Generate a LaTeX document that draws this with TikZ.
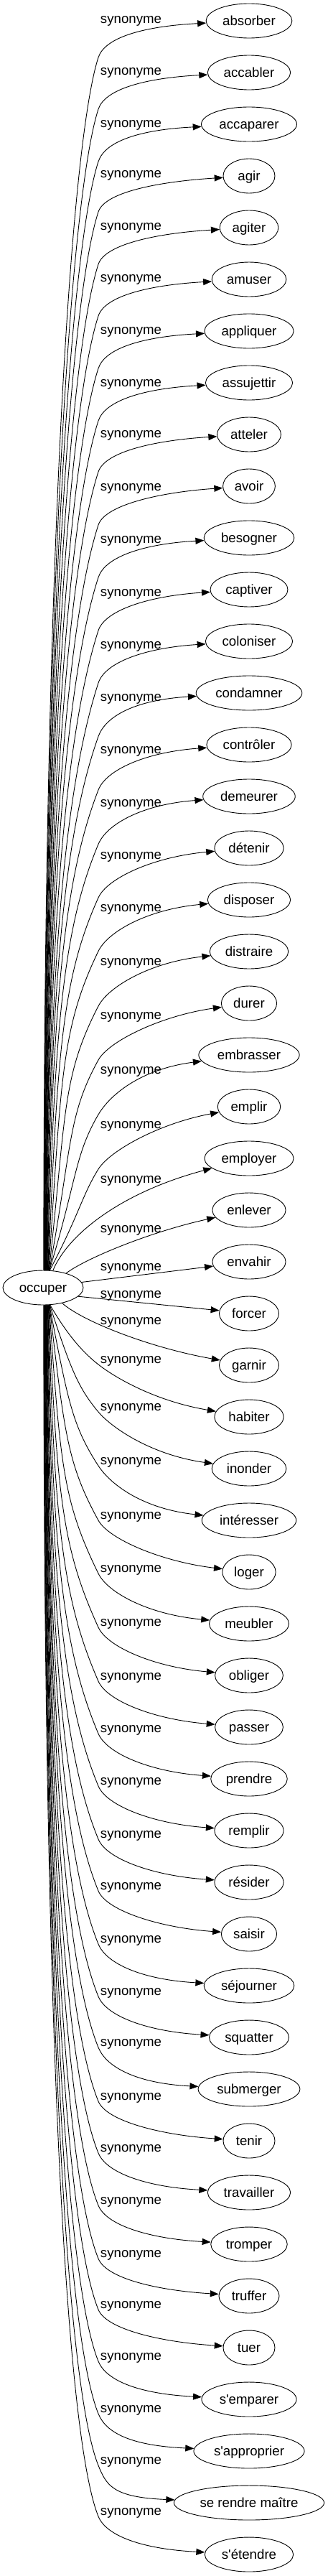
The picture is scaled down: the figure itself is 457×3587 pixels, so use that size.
\documentclass[tikz,border=0pt]{standalone}
\usepackage{fontspec}
\setmainfont{Liberation Sans}
\usetikzlibrary{shapes.geometric,arrows.meta,calc}
\begin{document}
\begin{tikzpicture}[x=1pt,y=-1pt,
  txt/.style={font=\fontsize{18.67pt}{22pt}\selectfont, text height=14pt, text depth=2pt},
  syn/.style={txt, ellipse, draw, line width=0.9pt, minimum width=72pt, minimum height=48pt, inner xsep=5.5pt, inner ysep=0pt},
  lab/.style={txt, inner sep=0pt},
  edge/.style={draw, line width=0.9pt, -{Triangle[length=12pt,width=9pt]}}]
\useasboundingbox (0,0) rectangle (457,3587);

% central node
\node[syn, minimum width=112pt] (occ) at (60,1793) {occuper};

% target nodes
\foreach \i/\w in {0/absorber,1/accabler,2/accaparer,3/agir,4/agiter,5/amuser,6/appliquer,7/assujettir,8/atteler,9/avoir,10/besogner,11/captiver,12/coloniser,13/condamner,14/contrôler,15/demeurer,16/détenir,17/disposer,18/distraire,19/durer,20/embrasser,21/emplir,22/employer,23/enlever,24/envahir,25/forcer,26/garnir,27/habiter,28/inonder,29/intéresser,30/loger,31/meubler,32/obliger,33/passer,34/prendre,35/remplir,36/résider,37/saisir,38/séjourner,39/squatter,40/submerger,41/tenir,42/travailler,43/tromper,44/truffer,45/tuer,46/s\textquotesingle emparer,47/s\textquotesingle approprier,48/se rendre maître,49/s\textquotesingle étendre}
  \node[syn] (t\i) at (347,{29+72*\i}) {\w};

% edge labels
\foreach \i/\ly in {0/26,1/98,2/171,3/241,4/314,5/386,6/459,7/532,8/603,9/677,10/750,11/824,12/897,13/970,14/1043,15/1117,16/1190,17/1263,18/1338,19/1413,20/1489,21/1565,22/1641,23/1710,24/1763,25/1801,26/1838,27/1892,28/1958,29/2033,30/2109,31/2183,32/2258,33/2333,34/2406,35/2479,36/2553,37/2625,38/2699,39/2772,40/2843,41/2918,42/2990,43/3063,44/3137,45/3208,46/3280,47/3353,48/3425,49/3496}
  \node[lab] (l\i) at (182.5,\ly) {synonyme};

% upper edges
\foreach \i/\ly in {0/26,1/98,2/171,3/241,4/314,5/386,6/459,7/532,8/603,9/677,10/750,11/824,12/897,13/970,14/1043,15/1117,16/1190,17/1263,18/1338,19/1413,20/1489,21/1565}{
  \pgfmathtruncatemacro\ang{88-0.9*\i}
  \pgfmathsetmacro\ky{\ly+min(63,54+max(0,\i-12)*1.5)}
  \pgfmathsetmacro\dd{1770-\ky}
  \pgfmathsetmacro\ps{90-28*exp(-(21-\i)/2)}
  \pgfmathsetmacro\ph{72-max(0,\i-12)*1.55}
  \pgfmathsetmacro\bb{5+11*exp(-(21-\i)/4)}
  \pgfmathsetmacro\ao{0.6*\dd}
  \pgfmathsetmacro\cc{min(0.3*\dd,120)}
  \coordinate (k\i) at (137,\ky);
  \draw[edge] (occ.\ang) .. controls ($(occ.\ang)+({\ao*cos(\ps)},{-\ao*sin(\ps)})$) and ({137-\cc*cos(\ph)},{\ky+\cc*sin(\ph)}) .. (k\i)
     .. controls ({137+30*cos(\ph)},{\ky-30*sin(\ph)}) and ($(t\i.west)+({-85*cos(\bb)},{85*sin(\bb)})$) .. (t\i);
}

% middle edges
\draw[edge] (occ.60) .. controls (95,1718) and (170,1660) .. (t22);
\draw[edge] (occ.32) .. controls (120,1752) and (210,1715) .. (t23);
\draw[edge] (occ.8) -- (t24);
\draw[edge] (occ.-14) -- (t25);
\draw[edge] (occ.-39) .. controls (115,1840) and (210,1877) .. (t26);

% lower edges
\foreach \i/\ly in {27/1892,28/1958,29/2033,30/2109,31/2183,32/2258,33/2333,34/2406,35/2479,36/2553,37/2625,38/2699,39/2772,40/2843,41/2918,42/2990,43/3063,44/3137,45/3208,46/3280,47/3353,48/3425,49/3496}{
  \pgfmathtruncatemacro\ang{-(88-0.9*(49-\i))}
  \pgfmathsetmacro\ky{\ly+8}
  \pgfmathsetmacro\dd{\ky-1816}
  \pgfmathsetmacro\ps{90-30*exp(-(\i-27)/2)}
  \pgfmathsetmacro\ph{68-30*exp(-(\i-27)/2)}
  \pgfmathsetmacro\bb{5+10*exp(-(\i-27)/4)}
  \pgfmathsetmacro\ao{0.6*\dd}
  \pgfmathsetmacro\cc{min(0.3*\dd,120)}
  \coordinate (k\i) at (137,\ky);
  \draw[edge] (occ.\ang) .. controls ($(occ.\ang)+({\ao*cos(\ps)},{\ao*sin(\ps)})$) and ({137-\cc*cos(\ph)},{\ky-\cc*sin(\ph)}) .. (k\i)
     .. controls ({137+30*cos(\ph)},{\ky+30*sin(\ph)}) and ($(t\i.west)+({-85*cos(\bb)},{-85*sin(\bb)})$) .. (t\i);
}
\end{tikzpicture}
\end{document}
